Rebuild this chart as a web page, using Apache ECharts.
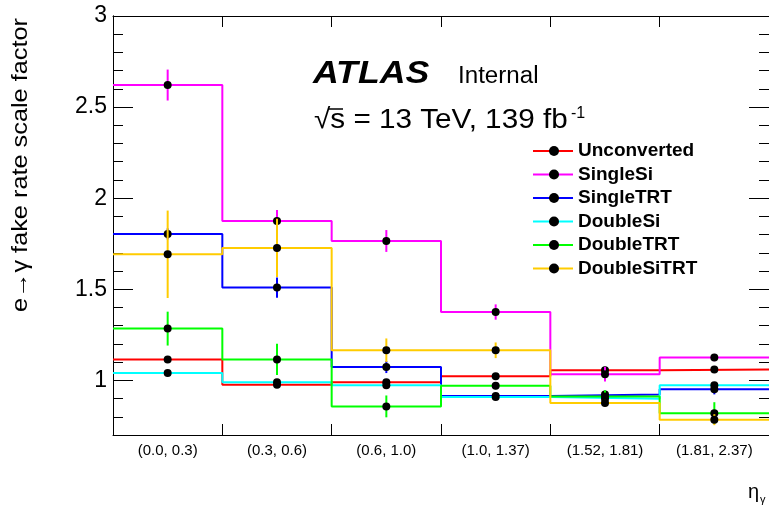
<!DOCTYPE html>
<html><head><meta charset="utf-8">
<script src="https://cdn.jsdelivr.net/npm/echarts@6/dist/echarts.min.js"></script>
<style>html,body{margin:0;padding:0;background:#fff}#c{width:769px;height:509px}</style>
</head><body><div id="c"></div>
<script>
const binLabels = ['(0.0, 0.3)', '(0.3, 0.6)', '(0.6, 1.0)', '(1.0, 1.37)', '(1.52, 1.81)', '(1.81, 2.37)'];
const seriesNames = ['Unconverted', 'SingleSi', 'SingleTRT', 'DoubleSi', 'DoubleTRT', 'DoubleSiTRT'];
const unconverted    = [1.115, 0.976, 0.989, 1.022, 1.055, 1.060];
const unconvertedErr = [0.012, 0.012, 0.012, 0.012, 0.012, 0.012];
const singleSi       = [2.621, 1.875, 1.765, 1.375, 1.033, 1.125];
const singleSiErr    = [0.085, 0.060, 0.060, 0.042, 0.040, 0.020];
const singleTRT      = [1.804, 1.509, 1.073, 0.914, 0.923, 0.951];
const singleTRTErr   = [0.030, 0.055, 0.033, 0.015, 0.020, 0.028];
const doubleSi       = [1.040, 0.990, 0.973, 0.908, 0.899, 0.973];
const doubleSiErr    = [0.010, 0.010, 0.010, 0.010, 0.010, 0.010];
const doubleTRT      = [1.284, 1.115, 0.857, 0.971, 0.912, 0.820];
const doubleTRTErr   = [0.093, 0.086, 0.060, 0.020, 0.033, 0.060];
const doubleSiTRT    = [1.692, 1.727, 1.165, 1.165, 0.875, 0.784];
const doubleSiTRTErr = [0.240, 0.160, 0.065, 0.043, 0.020, 0.030];
const yTickLabels = [1, 1.5, 2, 2.5, 3];
const yMin = 0.7, yMax = 3;

const values = [unconverted, singleSi, singleTRT, doubleSi, doubleTRT, doubleSiTRT];
const errors = [unconvertedErr, singleSiErr, singleTRTErr, doubleSiErr, doubleTRTErr, doubleSiTRTErr];
const colors = ['#ff0000', '#ff00ff', '#0000ff', '#00ffff', '#00ff00', '#ffcc00'];

const minorTicks = [];
for (let i = 7; i <= 30; i++) minorTicks.push(i / 10);
const binEdges = binLabels.map((_, i) => i);
const binCenters = binLabels.map((_, i) => i + 0.5);
const FONT = '"Liberation Sans", Arial, Helvetica, sans-serif';

const series = [];
values.forEach((vals, k) => {
  const stepData = vals.map((v, i) => [binEdges[i], v]);
  stepData.push([binLabels.length, vals[vals.length - 1]]);
  series.push({
    name: seriesNames[k], type: 'line', step: 'end', data: stepData,
    symbol: 'none', lineStyle: { color: colors[k], width: 2 }, itemStyle: { color: colors[k] },
    z: 2 + k * 3, silent: true
  });
  series.push({
    name: seriesNames[k] + ' err', type: 'custom', z: 3 + k * 3, silent: true,
    data: vals.map((v, i) => [binCenters[i], v, errors[k][i]]),
    renderItem: (params, api) => {
      const x = api.value(0), y = api.value(1), e = api.value(2);
      const p1 = api.coord([x, y - e]), p2 = api.coord([x, y + e]);
      return { type: 'line', shape: { x1: p1[0], y1: p1[1], x2: p2[0], y2: p2[1] },
        style: { stroke: colors[k], lineWidth: 2 } };
    }
  });
  series.push({
    name: seriesNames[k] + ' pts', type: 'scatter', symbol: 'circle', symbolSize: 8,
    data: vals.map((v, i) => [binCenters[i], v]),
    itemStyle: { color: '#000', opacity: 1 }, z: 4 + k * 3, silent: true
  });
});

const axisLine = { show: true, lineStyle: { color: '#000', width: 1 } };
const chart = echarts.init(document.getElementById('c'));
chart.setOption({
  animation: false,
  grid: { left: 113, right: -1, top: 16, bottom: 74 },
  xAxis: [
    { type: 'value', min: 0, max: 6, position: 'bottom', axisLine,
      axisTick: { show: true, inside: true, length: 11, customValues: binEdges, lineStyle: { color: '#000' } },
      axisLabel: { show: true, customValues: binCenters, formatter: v => binLabels[Math.floor(v)],
        color: '#000', fontSize: 15, fontFamily: FONT, margin: 8 },
      splitLine: { show: false } },
    { type: 'value', min: 0, max: 6, position: 'top', axisLine,
      axisTick: { show: true, inside: true, length: 11, customValues: binEdges, lineStyle: { color: '#000' } },
      axisLabel: { show: false }, splitLine: { show: false } }
  ],
  yAxis: [
    { type: 'value', min: yMin, max: yMax, position: 'left', axisLine,
      axisTick: { show: true, inside: true, length: 20, customValues: yTickLabels, lineStyle: { color: '#000' } },
      axisLabel: { show: true, customValues: yTickLabels, formatter: v => String(v), color: '#000', fontSize: 23, fontFamily: FONT, margin: 6 },
      splitLine: { show: false } },
    { type: 'value', min: yMin, max: yMax, position: 'left', axisLine,
      axisTick: { show: true, inside: true, length: 10, customValues: minorTicks, lineStyle: { color: '#000' } },
      axisLabel: { show: false }, splitLine: { show: false } },
    { type: 'value', min: yMin, max: yMax, position: 'right', axisLine,
      axisTick: { show: true, inside: true, length: 20, customValues: yTickLabels, lineStyle: { color: '#000' } },
      axisLabel: { show: false }, splitLine: { show: false } },
    { type: 'value', min: yMin, max: yMax, position: 'right', axisLine,
      axisTick: { show: true, inside: true, length: 10, customValues: minorTicks, lineStyle: { color: '#000' } },
      axisLabel: { show: false }, splitLine: { show: false } }
  ],
  legend: [
    { data: seriesNames, orient: 'vertical', left: 528, top: 136, icon: 'rect', itemWidth: 40, itemHeight: 2, itemGap: 3.5,
      selectedMode: false, textStyle: { fontSize: 19, fontWeight: 'bold', fontFamily: FONT, color: '#000', lineHeight: 20 } },
    { data: seriesNames.map(n => n + ' pts'), orient: 'vertical', left: 544, top: 136, icon: 'circle', itemWidth: 10, itemHeight: 10, itemGap: 3.5,
      selectedMode: false, formatter: n => n, textStyle: { fontSize: 19, fontWeight: 'bold', fontFamily: FONT, color: 'rgba(0,0,0,0)', lineHeight: 20 } }
  ],
  graphic: [
    { type: 'text', x: 313, y: 74, scaleX: 1.15, style: { text: 'ATLAS', font: 'italic bold 31px ' + FONT, fill: '#000', verticalAlign: 'middle' } },
    { type: 'text', x: 458, y: 77, scaleX: 1.05, style: { text: 'Internal', font: '23px ' + FONT, fill: '#000', verticalAlign: 'middle' } },
    { type: 'text', x: 314, y: 120, scaleX: 1.06, style: { text: '√s = 13 TeV, 139 fb', font: '28px ' + FONT, fill: '#000', verticalAlign: 'middle' } },
    { type: 'line', shape: { x1: 328, y1: 109, x2: 343, y2: 109 }, style: { stroke: '#000', lineWidth: 1.5 } },
    { type: 'text', x: 571, y: 114, style: { text: '-1', font: '16px ' + FONT, fill: '#000', verticalAlign: 'middle' } },
    { type: 'text', x: 21, y: 165, rotation: Math.PI / 2, scaleX: 1.15, style: { text: 'e\u2192\u03b3 fake rate scale factor', font: '22px ' + FONT, fill: '#000', align: 'center', verticalAlign: 'middle' } },
    { type: 'text', x: 748, y: 492, style: { text: '\u03b7', font: '20px ' + FONT, fill: '#000', verticalAlign: 'middle' } },
    { type: 'text', x: 760, y: 500, style: { text: '\u03b3', font: '11px ' + FONT, fill: '#000', verticalAlign: 'middle' } }
  ],
  series
});
</script></body></html>
